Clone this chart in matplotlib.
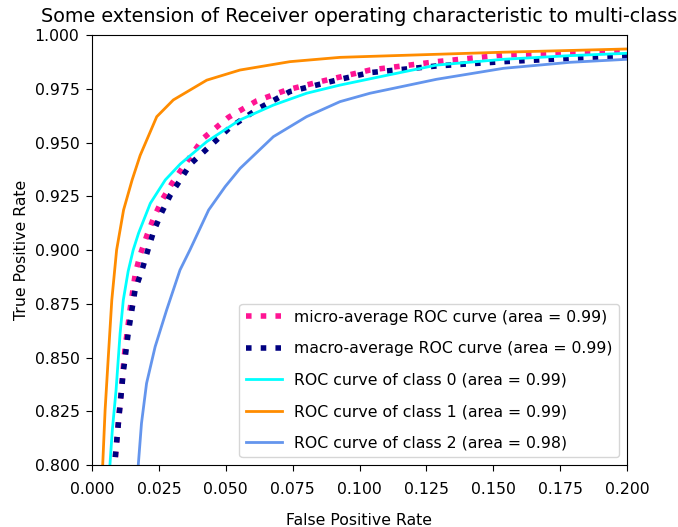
import matplotlib
matplotlib.use("Agg")
import matplotlib.pyplot as plt

# ---- data ----
micro_fpr = [0.0080, 0.0085, 0.0100, 0.0123, 0.0143, 0.0162, 0.0180, 0.0206, 0.0230, 0.0262,
             0.0299, 0.0341, 0.0416, 0.0510, 0.0616, 0.0727, 0.0852, 0.1039, 0.1288, 0.1538,
             0.1787, 0.2000]
micro_tpr = [0.790, 0.800, 0.822, 0.8535, 0.8729, 0.8891, 0.8977, 0.907, 0.9147, 0.9233,
             0.931, 0.9387, 0.952, 0.9617, 0.9694, 0.9744, 0.9783, 0.9837, 0.9876, 0.9907,
             0.9918, 0.9920]

macro_fpr = [0.0080, 0.0088, 0.0102, 0.0117, 0.0136, 0.0161, 0.0187, 0.0209, 0.0230, 0.0259,
             0.0293, 0.0330, 0.0368, 0.0466, 0.0516, 0.0622, 0.0740, 0.0927, 0.1039, 0.1288,
             0.1538, 0.1787, 0.2000]
macro_tpr = [0.790, 0.805, 0.824, 0.8433, 0.862, 0.8814, 0.8907, 0.900, 0.9085, 0.9171,
             0.9256, 0.9326, 0.940, 0.9512, 0.957, 0.9658, 0.9737, 0.9794, 0.9825, 0.9856,
             0.9876, 0.9891, 0.9902]

class0_fpr = [0.0062, 0.0067, 0.0076, 0.0090, 0.0105, 0.0117, 0.0135, 0.0154, 0.0174, 0.0218,
              0.0274, 0.0330, 0.0429, 0.0553, 0.0678, 0.0802, 0.0927, 0.1077, 0.1288, 0.1538,
              0.1787, 0.2000]
class0_tpr = [0.790, 0.800, 0.8163, 0.8349, 0.8612, 0.8767, 0.890, 0.900, 0.9078, 0.9217,
              0.9326, 0.940, 0.9504, 0.9605, 0.9674, 0.9729, 0.9767, 0.9806, 0.986, 0.9887,
              0.9904, 0.9915]

class1_fpr = [0.0035, 0.0040, 0.0049, 0.0061, 0.0074, 0.0092, 0.0118, 0.0150, 0.0180, 0.0242,
              0.0304, 0.0429, 0.0553, 0.0740, 0.0927, 0.1077, 0.1538, 0.2000]
class1_tpr = [0.790, 0.800, 0.8256, 0.8504, 0.8767, 0.900, 0.9186, 0.9326, 0.9440, 0.962,
              0.9698, 0.979, 0.9837, 0.9876, 0.9896, 0.9902, 0.992, 0.9935]

class2_fpr = [0.0168, 0.0173, 0.0185, 0.0204, 0.0236, 0.0279, 0.0329, 0.0366, 0.0436, 0.0498,
              0.0554, 0.0678, 0.0802, 0.0927, 0.1039, 0.1288, 0.1538, 0.1787, 0.2000]
class2_tpr = [0.790, 0.800, 0.8194, 0.838, 0.855, 0.8721, 0.8907, 0.900, 0.9186, 0.9295,
              0.938, 0.9527, 0.962, 0.969, 0.9729, 0.9794, 0.9845, 0.9873, 0.9887]

micro_auc = 0.99
macro_auc = 0.99
class_aucs = [0.99, 0.99, 0.98]

x_ticks = [0.000, 0.025, 0.050, 0.075, 0.100, 0.125, 0.150, 0.175, 0.200]
y_ticks = [0.800, 0.825, 0.850, 0.875, 0.900, 0.925, 0.950, 0.975, 1.000]

# ---- figure ----
plt.rcParams['font.family'] = ['DejaVu Sans']
fig = plt.figure(figsize=(6.78, 5.27), dpi=100)
ax = fig.add_axes([92 / 678, 62 / 527, 535 / 678, 430 / 527])

ax.plot(micro_fpr, micro_tpr, color='deeppink', linestyle=':', linewidth=4,
        label='micro-average ROC curve (area = {0:0.2f})'.format(micro_auc))
ax.plot(macro_fpr, macro_tpr, color='navy', linestyle=':', linewidth=4,
        label='macro-average ROC curve (area = {0:0.2f})'.format(macro_auc))

class_fprs = [class0_fpr, class1_fpr, class2_fpr]
class_tprs = [class0_tpr, class1_tpr, class2_tpr]
colors = ['aqua', 'darkorange', 'cornflowerblue']
for i, (f, t, c) in enumerate(zip(class_fprs, class_tprs, colors)):
    ax.plot(f, t, color=c, linewidth=2,
            label='ROC curve of class {0} (area = {1:0.2f})'.format(i, class_aucs[i]))

ax.set_xlim(0.0, 0.2)
ax.set_ylim(0.8, 1.0)
ax.set_xticks(x_ticks)
ax.set_yticks(y_ticks)
ax.set_xticklabels(['{:.3f}'.format(v) for v in x_ticks])
ax.set_yticklabels(['{:.3f}'.format(v) for v in y_ticks])
ax.tick_params(axis='both', labelsize=11.3, length=4.5)
ax.tick_params(axis='x', pad=8)
ax.tick_params(axis='y', pad=4.5)
ax.set_xlabel('False Positive Rate', fontsize=11.3, labelpad=11)
ax.set_ylabel('True Positive Rate', fontsize=11.3, labelpad=4)
ax.set_title('Some extension of Receiver operating characteristic to multi-class',
             fontsize=13.8, pad=9)
ax.legend(loc='lower right', fontsize=11.3, labelspacing=1.05, handlelength=2.3)

fig.savefig('out.png', dpi=100)
